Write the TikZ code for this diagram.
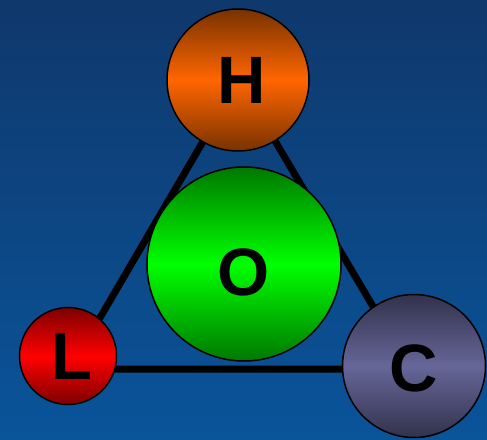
\documentclass[tikz,border=0pt]{standalone}
\usepackage{fontspec}
\setmainfont{Liberation Sans}
\tikzset{
    ball/.style={circle, draw=black, line width=1.5pt, inner sep=0pt,
        shading=axis, font=\fontsize{67}{67}\selectfont\bfseries},
    bond/.style={line width=7pt, black}
}
\begin{document}
\begin{tikzpicture}[x=1pt, y=-1pt]
    \definecolor{bgtop}{RGB}{15,56,108}
    \definecolor{bgbot}{RGB}{10,84,154}
    \definecolor{horange}{RGB}{255,102,0}
    \definecolor{hdark}{RGB}{120,50,0}
    \definecolor{lred}{RGB}{255,0,0}
    \definecolor{ldark}{RGB}{125,0,0}
    \definecolor{ogreen}{RGB}{0,255,0}
    \definecolor{odark}{RGB}{0,120,0}
    \definecolor{cgrey}{RGB}{102,102,153}
    \definecolor{cdark}{RGB}{50,50,75}

    \useasboundingbox (0,0) rectangle (487,439);
    \shade[top color=bgtop, bottom color=bgbot] (0,0) rectangle (487,439);

    % corners of the triangle
    \coordinate (top) at (239,80);
    \coordinate (left) at (70,369);
    \coordinate (right) at (410,369);
    \draw[bond] (top) -- (left) -- (right) -- cycle;

    \node[ball, minimum size=142pt, top color=hdark, bottom color=hdark, middle color=horange] (H) at (238,80) {\hspace{7pt}H};
    \node[ball, minimum size=194pt, top color=odark, bottom color=odark, middle color=ogreen] (O) at (244,264) {\raisebox{-8pt}[\height][\depth]{O}\hspace{5pt}};
    \node[ball, minimum size=97pt, top color=ldark, bottom color=ldark, middle color=lred] (L) at (68,356) {\hspace{8pt}L};
    \node[ball, minimum size=143pt, top color=cdark, bottom color=cdark, middle color=cgrey] (C) at (414,366) {\raisebox{-2pt}[\height][\depth]{C}\hspace{4pt}};
\end{tikzpicture}
\end{document}
